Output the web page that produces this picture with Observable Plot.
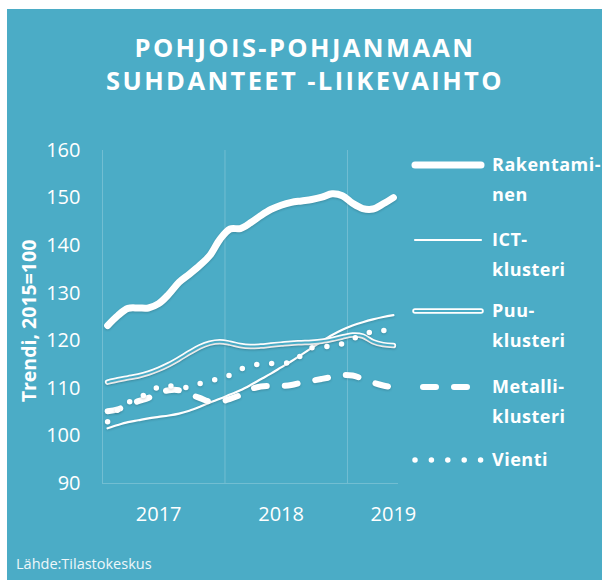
<!DOCTYPE html>
<html>
<head>
<meta charset="utf-8">
<script src="https://cdn.jsdelivr.net/npm/d3@7"></script>
<script src="https://cdn.jsdelivr.net/npm/@observablehq/plot@0.6"></script>
<style>
  html, body { margin: 0; padding: 0; background: #ffffff; }
  #wrap { position: relative; width: 602px; height: 581px; background: #ffffff; overflow: hidden; }
  #panel { position: absolute; left: 7px; top: 9px; width: 595px; height: 571px; background: #4BACC6; }
  #plot { position: absolute; left: 0; top: 0; }
  #ov { position: absolute; left: 0; top: 0; }
  #plot g[aria-label="line"] path { filter: drop-shadow(0px 1.5px 1px rgba(0,0,0,0.18)); }
  text { font-family: "Open Sans", sans-serif; }
</style>
</head>
<body>
<div id="wrap">
  <div id="panel"></div>
  <div id="plot"></div>
  <svg id="ov" width="602" height="581"></svg>
</div>
<script>
// ---- data ----
const months = ["2017-01","2017-02","2017-03","2017-04","2017-05","2017-06","2017-07","2017-08","2017-09","2017-10","2017-11","2017-12",
                "2018-01","2018-02","2018-03","2018-04","2018-05","2018-06","2018-07","2018-08","2018-09","2018-10","2018-11","2018-12",
                "2019-01","2019-02","2019-03","2019-04","2019-05"];
const yearLabels = ["2017","2018","2019"];
const yearLabelMonth = ["2017-06","2018-06","2019-05"];
const yTicks = [90,100,110,120,130,140,150,160];

const seriesNames = ["Rakentaminen","ICT-klusteri","Puu-klusteri","Metalli-klusteri","Vienti"];
const legendLines = [["Rakentami-","nen"],["ICT-","klusteri"],["Puu-","klusteri"],["Metalli-","klusteri"],["Vienti"]];

const rakentaminen = [123.2,125.3,126.8,126.9,126.9,127.8,129.8,132.3,134.0,135.8,137.9,141.3,143.5,143.6,144.8,146.3,147.6,148.5,149.1,149.4,149.7,150.2,150.9,150.5,148.9,147.8,147.7,148.8,150.1];
const ict          = [101.6,102.3,102.9,103.3,103.7,104.0,104.3,104.7,105.3,106.1,107.0,107.8,108.7,109.6,110.7,111.9,113.1,114.4,115.7,117.1,118.5,119.9,121.2,122.3,123.2,123.9,124.5,125.0,125.4];
const puu          = [111.3,111.8,112.2,112.6,113.2,114.0,115.0,116.2,117.5,118.7,119.5,119.8,119.5,119.0,118.8,118.9,119.1,119.3,119.5,119.6,119.7,119.9,120.3,120.8,121.2,121.0,119.8,119.2,119.0];
const metalli      = [105.2,105.6,106.5,107.3,108.0,109.0,109.6,109.6,108.8,108.0,107.2,107.2,107.8,108.6,109.8,110.4,110.5,110.5,110.7,111.2,111.6,112.0,112.4,112.8,112.7,112.0,111.2,110.6,110.2];
const vienti       = [103.0,105.5,107.0,108.0,109.0,110.3,110.5,110.3,110.2,111.0,111.6,112.0,112.8,114.0,114.6,115.2,115.2,115.3,115.5,117.0,118.5,118.8,118.8,119.4,120.4,121.2,122.0,122.2,121.5];

// ---- build tables ----
const toRows = arr => arr.map((v, i) => ({i, v}));
const yearStarts = months.map((m, i) => [m, i]).filter(([m]) => m.endsWith("-01")).map(([, i]) => i - 0.5);
const yearTickIdx = yearLabelMonth.map(m => months.indexOf(m));

const teal = "#4BACC6";
const grid = "rgba(255,255,255,0.22)";

const common = {x: "i", y: "v", curve: "catmull-rom", strokeLinecap: "round", strokeLinejoin: "round"};

const chart = Plot.plot({
  width: 602,
  height: 581,
  marginLeft: 102,
  marginRight: 204,
  marginTop: 150,
  marginBottom: 98,
  style: {background: "transparent", fontFamily: "Open Sans, sans-serif", color: "#ffffff", overflow: "visible"},
  x: {domain: [-0.5, months.length - 0.5]},
  y: {domain: [90, 160]},
  marks: [
    Plot.ruleX(yearStarts, {stroke: grid, strokeWidth: 1}),
    Plot.ruleY([90], {stroke: grid, strokeWidth: 1}),
    Plot.axisY({ticks: yTicks, tickSize: 0, tickPadding: 22, fontSize: 20, fill: "#ffffff", label: null}),
    Plot.axisX({ticks: yearTickIdx, tickFormat: (d) => yearLabels[yearTickIdx.indexOf(d)], tickSize: 0, tickPadding: 23, fontSize: 20, fill: "#ffffff", label: null}),
    Plot.line(toRows(rakentaminen), {...common, stroke: "#ffffff", strokeWidth: 7}),
    Plot.line(toRows(ict), {...common, stroke: "#ffffff", strokeWidth: 2.2}),
    Plot.line(toRows(puu), {...common, stroke: "#ffffff", strokeWidth: 5.5}),
    Plot.line(toRows(puu), {...common, stroke: teal, strokeWidth: 2}),
    Plot.line(toRows(metalli), {...common, stroke: "#ffffff", strokeWidth: 6, strokeDasharray: "13 18"}),
    Plot.line(toRows(vienti), {...common, stroke: "#ffffff", strokeWidth: 5.5, strokeDasharray: "0 15"})
  ]
});
document.getElementById("plot").appendChild(chart);

// ---- overlay: title, axis title, legend, caption ----
const ov = d3.select("#ov");
const titleLines = ["POHJOIS-POHJANMAAN", "SUHDANTEET -LIIKEVAIHTO"];
ov.selectAll("text.title").data(titleLines).join("text")
  .attr("class", "title")
  .attr("x", 305).attr("y", (d, k) => 57 + k * 33)
  .attr("text-anchor", "middle")
  .attr("fill", "#ffffff")
  .style("font-size", "25.5px").style("font-weight", "700").style("letter-spacing", "2.4px")
  .text(d => d);

ov.append("text")
  .attr("transform", "translate(36,321) rotate(-90)")
  .attr("text-anchor", "middle")
  .attr("fill", "#ffffff")
  .style("font-size", "19.5px").style("font-weight", "700")
  .text("Trendi, 2015=100");

ov.append("text")
  .attr("x", 16).attr("y", 569)
  .attr("fill", "#eef7fa")
  .style("font-size", "14.5px")
  .text("Lähde:Tilastokeskus");

const legendBase = [171, 246, 317, 393, 466];
const lx0 = 415, lx1 = 481, tx = 492;
const swatch = [
  [{w: 7, c: "#ffffff"}],
  [{w: 2.2, c: "#ffffff"}],
  [{w: 5.5, c: "#ffffff"}, {w: 2, c: teal}],
  [{w: 6, c: "#ffffff", dash: "13 18"}],
  [{w: 5.5, c: "#ffffff", dash: "0 16.4"}]
];
seriesNames.forEach((name, k) => {
  const yb = legendBase[k];
  const ly = yb - 6;
  swatch[k].forEach(s => {
    ov.append("line")
      .attr("x1", k === 3 ? 423 : lx0).attr("x2", lx1)
      .attr("y1", ly).attr("y2", ly)
      .attr("stroke", s.c).attr("stroke-width", s.w)
      .attr("stroke-linecap", "round")
      .attr("stroke-dasharray", s.dash || null);
  });
  legendLines[k].forEach((t, j) => {
    ov.append("text")
      .attr("x", tx).attr("y", yb + j * 30)
      .attr("fill", "#ffffff")
      .style("font-size", "18px").style("font-weight", "700").style("letter-spacing", "0.5px")
      .text(t);
  });
});
</script>
</body>
</html>
